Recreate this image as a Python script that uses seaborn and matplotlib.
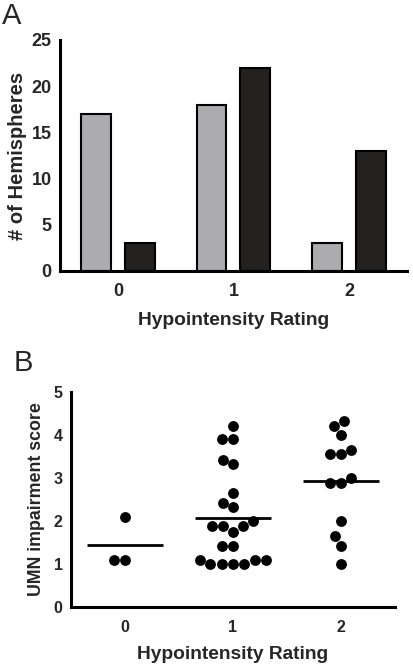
import numpy as np
import pandas as pd
import seaborn as sns
import matplotlib.pyplot as plt

# Panel A: hemisphere counts per hypointensity rating
ratings = ["0", "1", "2"]
series_names = ["Group 1", "Group 2"]
counts_group1 = [17, 18, 3]
counts_group2 = [3, 22, 13]

# Panel B: UMN impairment score per hemisphere
scores_0 = [2.1, 1.1, 1.1]
scores_1 = [4.2, 3.9, 3.9, 3.43, 3.32, 2.65, 2.42, 2.32, 2.0, 1.88, 1.88, 1.88,
            1.75, 1.42, 1.42, 1.1, 1.1, 1.1, 1.0, 1.0, 1.0, 1.0]
scores_2 = [4.32, 4.2, 4.0, 3.66, 3.55, 3.55, 3.0, 2.88, 2.88, 2.0, 1.65, 1.43, 1.0]

bar_df = pd.DataFrame({
    "rating": ratings * 2,
    "count": counts_group1 + counts_group2,
    "series": [series_names[0]] * 3 + [series_names[1]] * 3,
})
score_df = pd.DataFrame({
    "rating": ["0"] * len(scores_0) + ["1"] * len(scores_1) + ["2"] * len(scores_2),
    "score": scores_0 + scores_1 + scores_2,
})

sns.set_style("white")
plt.rcParams["font.family"] = ["Liberation Sans", "DejaVu Sans"]

fig = plt.figure(figsize=(4.13, 6.64), dpi=100)
ax_a = fig.add_axes([0.1453, 0.5919, 0.840, 0.348])
ax_b = fig.add_axes([0.1719, 0.0858, 0.7845, 0.3238])

# --- panel A
sns.barplot(data=bar_df, x="rating", y="count", hue="series",
            palette=["#abacaf", "#231f20"], width=0.76, gap=0.32,
            edgecolor="black", linewidth=1.5, legend=False, ax=ax_a)
ax_a.set_ylim(0, 25)
ax_a.set_xlim(-0.5, 2.5)
ax_a.set_yticks([0, 5, 10, 15, 20, 25])
ax_a.set_ylabel("# of Hemispheres", fontsize=14.5, fontweight="bold", labelpad=3)
ax_a.set_xlabel("Hypointensity Rating", fontsize=13.8, fontweight="bold", labelpad=8)

# --- panel B
sns.swarmplot(data=score_df, x="rating", y="score", order=ratings,
              color="black", size=7.8, ax=ax_b)
means = score_df.groupby("rating")["score"].mean()
for i, r in enumerate(ratings):
    ax_b.hlines(means[r], i - 0.35, i + 0.35, color="black", linewidth=2, zorder=3)
ax_b.set_ylim(0, 5)
ax_b.set_xlim(-0.5, 2.5)
ax_b.set_yticks([0, 1, 2, 3, 4, 5])
ax_b.set_ylabel("UMN impairment score", fontsize=12.8, fontweight="bold", labelpad=6)
ax_b.set_xlabel("Hypointensity Rating", fontsize=13.8, fontweight="bold", labelpad=8)

for ax, tsize in ((ax_a, 13), (ax_b, 11.5)):
    sns.despine(ax=ax)
    for side in ("left", "bottom"):
        ax.spines[side].set_linewidth(2.2)
        ax.spines[side].set_color("black")
    ax.tick_params(axis="both", direction="out", length=5, width=2.2,
                   color="black", labelsize=tsize, pad=1)
    ax.tick_params(axis="x", pad=4)
    for lab in ax.get_xticklabels() + ax.get_yticklabels():
        lab.set_fontweight("bold")

fig.text(0.005, 0.955, "A", fontsize=21, va="bottom", ha="left")
fig.text(0.033, 0.432, "B", fontsize=21, va="bottom", ha="left")

fig.savefig("out.png", dpi=100, facecolor="white")
